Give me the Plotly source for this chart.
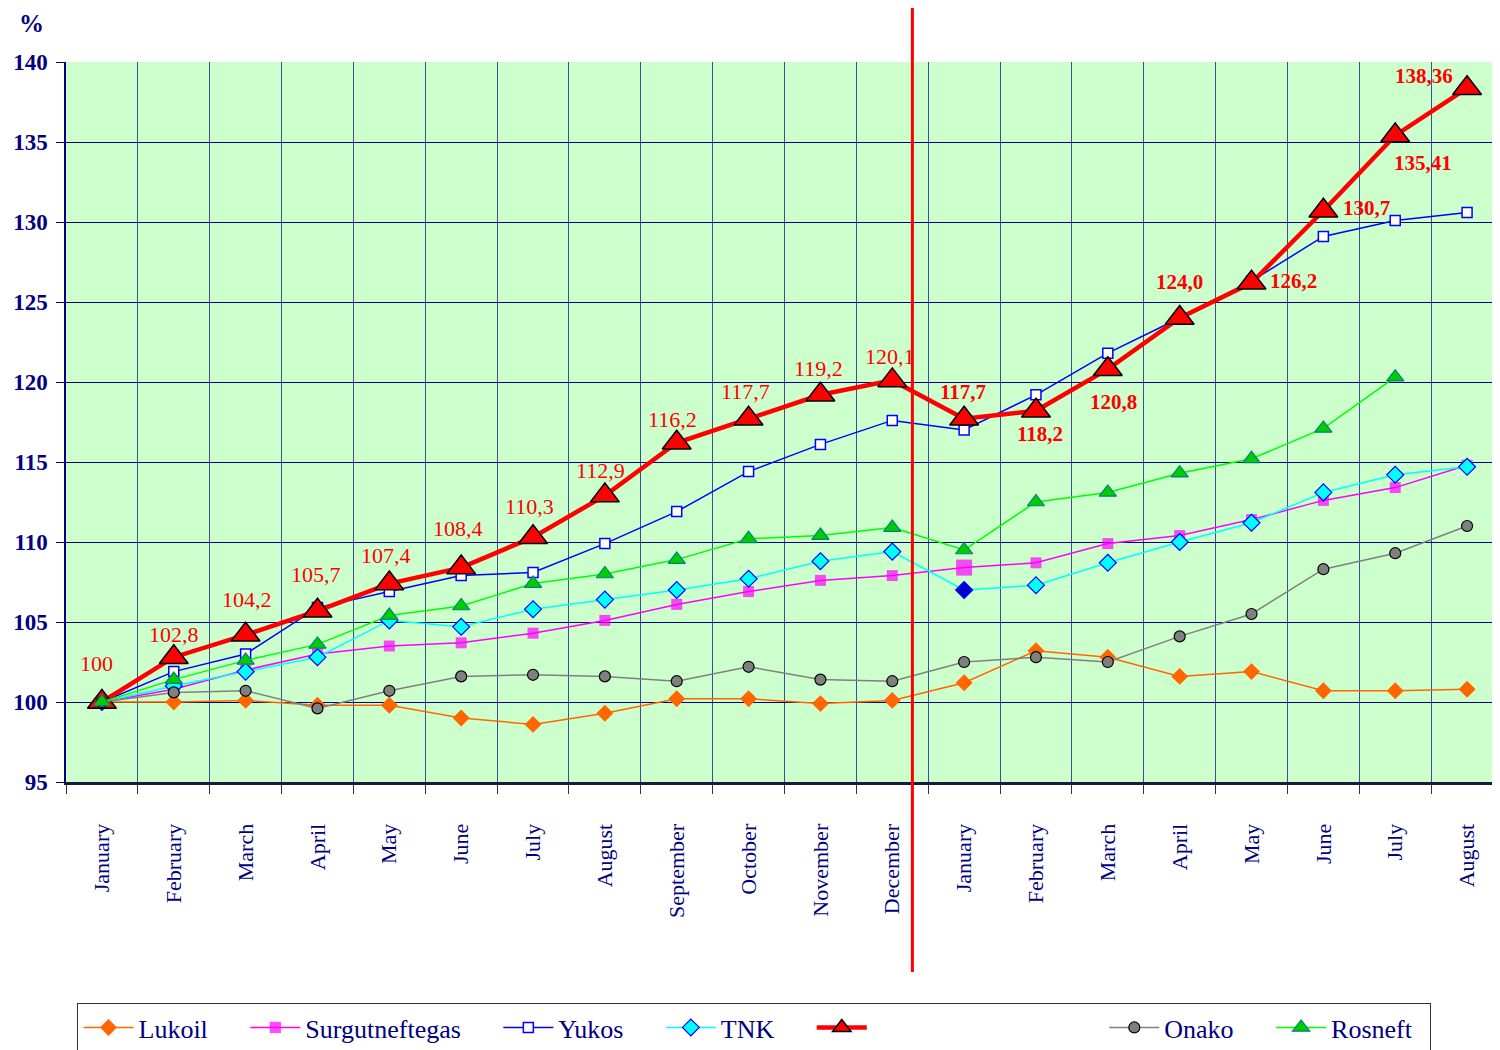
import plotly.graph_objects as go

# ---------------- data ----------------
MONTHS = ["January", "February", "March", "April", "May", "June", "July",
          "August", "September", "October", "November", "December",
          "January", "February", "March", "April", "May", "June", "July", "August"]
YEAR = [1] * 12 + [2] * 8
PERIODS = [f"{m} {y}" for m, y in zip(MONTHS, YEAR)]

LUKOIL = [100, 100.0, 100.1, 99.8, 99.8, 99.0, 98.6, 99.3, 100.2, 100.2, 99.9, 100.1,
          101.2, 103.2, 102.8, 101.6, 101.9, 100.7, 100.7, 100.8]
SURGUT = [100, 100.8, 102.0, 103.0, 103.5, 103.7, 104.3, 105.1, 106.1, 106.9, 107.6, 107.9,
          108.4, 108.7, 109.9, 110.4, 111.4, 112.6, 113.4, 114.8]
YUKOS = [100, 101.9, 103.0, 105.9, 106.9, 107.9, 108.1, 109.9, 111.9, 114.4, 116.1, 117.6,
         117.0, 119.2, 121.8, 124.0, 126.3, 129.1, 130.1, 130.6]
TNK = [100, 101.0, 101.9, 102.8, 105.1, 104.7, 105.8, 106.4, 107.0, 107.7, 108.8, 109.4,
       107.0, 107.3, 108.7, 110.0, 111.2, 113.1, 114.2, 114.7]
MAIN = [100, 102.8, 104.2, 105.7, 107.4, 108.4, 110.3, 112.9, 116.2, 117.7, 119.2, 120.1,
        117.7, 118.2, 120.8, 124.0, 126.2, 130.7, 135.41, 138.36]
MAIN_LABELS = ["100", "102,8", "104,2", "105,7", "107,4", "108,4", "110,3", "112,9",
               "116,2", "117,7", "119,2", "120,1", "117,7", "118,2", "120,8", "124,0",
               "126,2", "130,7", "135,41", "138,36"]
ONAKO = [100, 100.6, 100.7, 99.6, 100.7, 101.6, 101.7, 101.6, 101.3, 102.2, 101.4, 101.3,
         102.5, 102.8, 102.5, 104.1, 105.5, 108.3, 109.3, 111.0]
ROSNEFT = [100, 101.4, 102.6, 103.6, 105.4, 106.0, 107.4, 108.0, 108.9, 110.2, 110.4, 110.9,
           109.5, 112.5, 113.1, 114.3, 115.2, 117.1, 120.3, None]

Y_TICKS = [95, 100, 105, 110, 115, 120, 125, 130, 135, 140]
SEPARATOR_INDEX = 11.28  # between the two years

# ---------------- styling ----------------
NAVY = "#000080"
SERIF = "Liberation Serif, Times New Roman, serif"
PAD = "\u00a0" * 5  # spacing after legend entries

# label offsets (pixels) relative to each point of the main series
LABEL_SHIFT = [(-5, 39), (0, 23), (1, 35), (-1, 36), (-3, 28), (-3, 39), (-4, 31), (-4, 25),
               (-4, 23), (-3, 27), (-2, 26), (-2, 24), (-1, 27), (4, -23), (6, -33), (0, 36),
               (42, 2), (43, 3), (28, -28), (-43, 12)]

fig = go.Figure()

fig.add_trace(go.Scatter(
    x=PERIODS, y=LUKOIL, name="Lukoil" + PAD, mode="lines+markers",
    line=dict(color="#FF6600", width=1.5),
    marker=dict(symbol="diamond", size=13, color="#FF6600", line=dict(width=0))))

fig.add_trace(go.Scatter(
    x=PERIODS, y=SURGUT, name="Surgutneftegas" + PAD, mode="lines+markers",
    line=dict(color="#FF00FF", width=1.5),
    marker=dict(symbol="square", size=[11] * 12 + [16] + [11] * 7, color="#FF00FF",
                line=dict(width=0))))

fig.add_trace(go.Scatter(
    x=PERIODS, y=YUKOS, name="Yukos" + PAD, mode="lines+markers",
    line=dict(color="#0000FF", width=1.5),
    marker=dict(symbol="square", size=10, color="white", line=dict(color="#0000FF", width=1.5))))

fig.add_trace(go.Scatter(
    x=PERIODS, y=TNK, name="TNK" + PAD, mode="lines+markers",
    line=dict(color="#00FFFF", width=1.5),
    marker=dict(symbol="diamond", size=13,
                color=["#00FFFF"] * 12 + ["#0000CC"] + ["#00FFFF"] * 7,
                line=dict(color="#0000FF", width=1.2))))

fig.add_trace(go.Scatter(
    x=PERIODS, y=MAIN, name="\u00a0" * 35, mode="lines+markers",
    line=dict(color="#FF0000", width=4.5),
    marker=dict(symbol="triangle-up", size=25, color="#FF0000", line=dict(color="black", width=1.5))))

fig.add_trace(go.Scatter(
    x=PERIODS, y=ONAKO, name="Onako" + PAD, mode="lines+markers",
    line=dict(color="#808080", width=1.5),
    marker=dict(symbol="circle", size=11, color="#808080", line=dict(color="black", width=1.2))))

fig.add_trace(go.Scatter(
    x=PERIODS, y=ROSNEFT, name="Rosneft" + "\u00a0" * 2, mode="lines+markers",
    line=dict(color="#00FF00", width=1.5),
    marker=dict(symbol="triangle-up", size=15, color="#00CC00", line=dict(color="#008080", width=1.2))))

# value labels for the main series
for i, (p, v, t) in enumerate(zip(PERIODS, MAIN, MAIN_LABELS)):
    dx, dy = LABEL_SHIFT[i]
    bold = YEAR[i] == 2
    fig.add_annotation(
        x=p, y=v, text=f"<b>{t}</b>" if bold else t, showarrow=False,
        xshift=dx, yshift=dy,
        font=dict(family=SERIF, size=21 if bold else 22, color="#FF0000"))

# "%" axis title
fig.add_annotation(xref="paper", yref="paper", x=-0.0243, y=1.054, text="<b>%</b>",
                   xanchor="center", yanchor="middle",
                   showarrow=False, font=dict(family=SERIF, size=25, color=NAVY))

# vertical separator between the years
x_lo, x_hi = -0.5, len(PERIODS) - 0.5
sep_paper = (SEPARATOR_INDEX - x_lo) / (x_hi - x_lo)
fig.add_shape(type="line", xref="paper", yref="paper", x0=sep_paper, x1=sep_paper,
              y0=-0.264, y1=1.075, line=dict(color="#FF0000", width=3), layer="above")

fig.update_layout(
    width=1500, height=1050,
    margin=dict(l=55, r=5, t=54, b=276),
    paper_bgcolor="white",
    plot_bgcolor="#CCFFCC",
    showlegend=True,
    legend=dict(orientation="h", x=0.008, xanchor="left", y=-0.307, yanchor="top",
                bgcolor="white", bordercolor="#333333", borderwidth=1,
                font=dict(family=SERIF, size=26, color=NAVY),
                itemwidth=50, tracegroupgap=0),
    xaxis=dict(
        type="category", range=[x_lo, x_hi],
        tickmode="array", tickvals=PERIODS, ticktext=MONTHS,
        tickson="boundaries", ticks="outside", ticklen=9, tickcolor="#333333",
        tickangle=-90, ticklabelstandoff=30,
        tickfont=dict(family=SERIF, size=22, color=NAVY),
        showgrid=True, gridcolor="rgba(0,0,128,0.7)", gridwidth=1,
        showline=True, linecolor="#1a1a40", linewidth=3,
        zeroline=False, fixedrange=True),
    yaxis=dict(
        range=[95, 140], tickmode="array", tickvals=Y_TICKS,
        ticks="outside", ticklen=8, tickcolor=NAVY, ticklabelstandoff=4,
        tickfont=dict(family=SERIF, size=23, color=NAVY, weight="bold"),
        showgrid=True, gridcolor=NAVY, gridwidth=1.2,
        showline=True, linecolor=NAVY, linewidth=1.5,
        zeroline=False, fixedrange=True),
)

fig.write_html("out.html")
